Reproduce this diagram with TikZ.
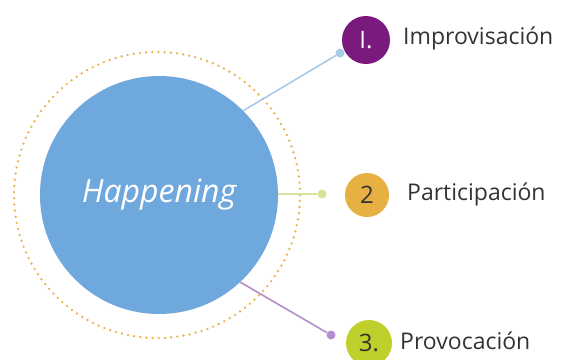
\documentclass[tikz,border=0pt]{standalone}
\usepackage{fontspec}
\setmainfont{Open Sans}
\definecolor{hubblue}{HTML}{6FA8DC}
\definecolor{ringgold}{HTML}{E9B44C}
\definecolor{lineblue}{HTML}{A9CBEA}
\definecolor{linegreen}{HTML}{D6E39C}
\definecolor{linepurple}{HTML}{B38FCB}
\definecolor{numpurple}{HTML}{7A1A7D}
\definecolor{numorange}{HTML}{E6B142}
\definecolor{numlime}{HTML}{BFCF2C}
\definecolor{txtgray}{HTML}{333333}
\begin{document}
\begin{tikzpicture}[x=1pt,y=-1pt,
  hubnode/.style={circle,fill=hubblue,minimum size=238pt,inner sep=0pt,text=white,font=\itshape\fontsize{32}{36}\selectfont},
  ring/.style={draw=ringgold,line width=2.6pt,line cap=round,dash pattern=on 0pt off 6.2pt},
  enddot/.style={circle,inner sep=0pt,minimum size=9pt},
  numcircle/.style={circle,inner sep=0pt,minimum size=45pt,font=\fontsize{24}{27}\selectfont},
  itemtext/.style={anchor=west,text=txtgray,font=\fontsize{23}{26}\selectfont,inner sep=0pt},
  link/.style={line width=1.6pt}]
\useasboundingbox (0,0) rectangle (561,359);
\fill[white] (0,0) rectangle (561,359);
\draw[ring] (157,195) circle (143pt);
\node[hubnode] (hub) at (159,195) {\raisebox{-5pt}{Happening}};
\node[enddot,fill=lineblue] (d1) at (340,53) {};
\node[enddot,fill=linegreen] (d2) at (322,194) {};
\node[enddot,fill=linepurple] (d3) at (331,335) {};
\draw[link,draw=lineblue] (hub.45) -- (d1);
\draw[link,draw=linegreen] (hub.east |- d2) -- (d2);
\draw[link,draw=linepurple] (hub.-47) -- (d3);
\node[numcircle,fill=numpurple,text=white,minimum size=48pt] (n1) at (366,40) {I.};
\node[numcircle,fill=numorange,text=txtgray,minimum size=44pt] (n2) at (367,195) {2};
\node[numcircle,fill=numlime,text=txtgray,minimum size=46pt] (n3) at (369,343) {3.};
\node[itemtext] (t1) at (403,38) {Improvisación};
\node[itemtext] (t2) at (407,194) {Participación};
\node[itemtext] (t3) at (400,341) {Provocación};
\end{tikzpicture}
\end{document}
